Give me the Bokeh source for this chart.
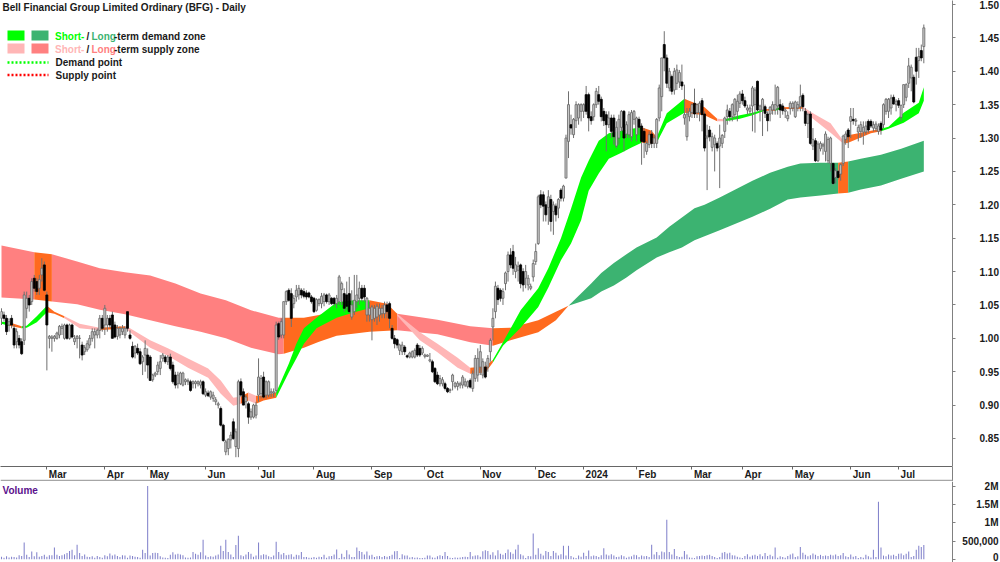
from bokeh.plotting import figure
from bokeh.layouts import column
from bokeh.core.properties import value
from bokeh.models import (Range1d, FixedTicker, LinearAxis, Arrow, ColumnDataSource,
                          NumeralTickFormatter)
from bokeh.embed import file_html
from bokeh.resources import INLINE

opens = [
 1.030,1.035,1.030,1.020,1.030,1.015,0.995,1.000,0.995,0.997,
 1.045,1.060,1.055,1.090,1.085,1.075,1.095,1.110,1.065,1.000,
 1.000,1.000,1.000,1.005,1.015,1.000,1.020,1.000,1.020,0.995,
 1.000,1.000,0.990,0.980,0.983,0.990,1.000,1.005,1.005,1.012,
 1.030,1.020,1.020,1.030,1.035,1.020,1.003,1.005,1.010,1.005,
 1.040,1.005,0.988,0.978,0.985,0.980,0.965,0.975,0.975,0.972,
 .938,.945,.950,.955,.970,.972,.965,.972,.960,.945,
 .932,.932,.930,.935,.935,.935,.932,.932,.932,.930,
 .935,.915,.918,.912,.910,.905,.900,.895,.870,.830,
 .835,.848,.875,.838,.835,.935,.920,.905,.902,.882,
 .882,.885,.915,.917,.942,.915,.915,.918,.918,.922,
 1.022,1.005,1.005,1.055,1.072,1.067,1.052,1.062,1.065,1.072,
 1.070,1.068,1.068,1.062,1.060,1.042,1.052,1.052,1.055,1.065,
 1.055,1.060,1.060,1.052,1.055,1.073,1.067,1.065,1.067,1.032,
 1.040,1.055,1.060,1.075,1.075,1.035,1.035,1.028,1.030,1.032,
 1.035,1.037,1.037,1.050,1.052,1.015,1.000,.998,.982,.980,
 .987,.974,.972,.972,.972,.990,.985,.978,.973,.973,
 .966,.965,.955,.945,.932,.932,.932,.925,.922,.935,
 .928,.928,.930,.930,.930,.928,.937,.925,.940,.945,
 .957,.945,.957,.957,.980,1.017,1.040,1.075,1.072,1.060,
 1.082,1.100,1.125,1.130,1.100,1.102,1.110,1.100,1.090,1.080,
 1.075,1.092,1.115,1.142,1.215,1.215,1.200,1.196,1.208,1.190,
 1.198,1.195,1.222,1.210,1.240,1.295,1.320,1.305,1.326,1.330,
 1.340,1.340,1.365,1.365,1.332,1.332,1.350,1.365,1.358,1.340,
 1.335,1.320,1.330,1.330,1.288,1.300,1.316,1.340,1.306,1.305,
 1.302,1.328,1.305,1.328,1.318,1.310,1.280,1.290,1.306,1.292,
 1.292,1.330,1.362,1.440,1.420,1.375,1.392,1.372,1.382,1.384,
 1.384,1.330,1.302,1.332,1.338,1.352,1.338,1.338,1.356,1.336,
 1.300,1.312,1.286,1.290,1.292,1.288,1.292,1.310,1.332,1.340,
 1.332,1.335,1.340,1.352,1.366,1.356,1.342,1.340,1.348,1.350,
 1.385,1.342,1.342,1.347,1.336,1.336,1.342,1.342,1.348,1.350,
 1.348,1.340,1.329,1.344,1.345,1.332,1.345,1.347,1.364,1.340,
 1.322,1.336,1.288,1.296,1.266,1.284,1.288,1.280,1.266,1.262,
 1.262,1.241,1.250,1.246,1.262,1.298,1.312,1.325,1.328,1.325,
 1.309,1.310,1.309,1.309,1.325,1.325,1.315,1.314,1.310,1.322,
 1.320,1.340,1.340,1.345,1.361,1.350,1.356,1.331,1.350,1.361,
 1.382,1.390,1.391,1.421,1.416,1.431,1.437]
highs = [
 1.045,1.040,1.035,1.030,1.035,1.020,1.015,1.005,1.000,1.070,
 1.070,1.065,1.090,1.095,1.090,1.095,1.120,1.115,1.070,1.005,
 1.005,1.005,1.010,1.020,1.022,1.022,1.022,1.022,1.022,1.005,
 1.005,1.005,0.995,0.990,0.997,1.005,1.015,1.015,1.015,1.035,
 1.035,1.050,1.035,1.035,1.040,1.025,1.020,1.018,1.020,1.018,
 1.040,1.012,0.995,0.990,0.992,0.985,0.975,0.997,0.985,0.975,
 .947,.950,.965,.975,.978,.975,.975,.977,.965,.950,
 .950,.950,.950,.940,.940,.938,.937,.937,.937,.938,
 .937,.925,.922,.922,.920,.912,.905,.898,.872,.848,
 .850,.860,.880,.865,.938,.940,.925,.915,.905,.895,
 .902,.905,.970,.945,.950,.937,.937,.925,.925,1.025,
 1.025,1.030,1.055,1.072,1.075,1.075,1.065,1.080,1.080,1.075,
 1.075,1.072,1.070,1.065,1.062,1.060,1.060,1.068,1.068,1.067,
 1.068,1.062,1.062,1.065,1.095,1.085,1.075,1.085,1.092,1.072,
 1.095,1.095,1.085,1.080,1.080,1.062,1.055,1.050,1.050,1.052,
 1.052,1.050,1.055,1.055,1.055,1.020,1.005,1.000,.992,.995,
 .990,.976,.980,.982,.985,.993,.990,.988,.977,.976,
 .978,.968,.957,.950,.945,.942,.935,.927,.925,.947,
 .935,.936,.935,.945,.940,.937,.940,.952,.975,.985,
 .990,.970,.965,.975,1.000,1.045,1.085,1.080,1.075,1.075,
 1.100,1.130,1.135,1.140,1.122,1.115,1.112,1.105,1.110,1.095,
 1.082,1.118,1.142,1.215,1.222,1.220,1.205,1.222,1.215,1.205,
 1.202,1.210,1.225,1.230,1.305,1.370,1.335,1.330,1.355,1.352,
 1.352,1.352,1.378,1.368,1.340,1.352,1.375,1.378,1.362,1.345,
 1.340,1.340,1.335,1.335,1.325,1.335,1.342,1.342,1.325,1.340,
 1.342,1.342,1.332,1.332,1.322,1.315,1.295,1.310,1.312,1.305,
 1.330,1.380,1.420,1.460,1.425,1.405,1.395,1.405,1.410,1.402,
 1.410,1.380,1.345,1.345,1.352,1.374,1.352,1.355,1.360,1.340,
 1.320,1.318,1.308,1.305,1.295,1.320,1.306,1.332,1.350,1.345,
 1.352,1.360,1.365,1.370,1.372,1.362,1.350,1.350,1.378,1.376,
 1.386,1.350,1.360,1.350,1.340,1.348,1.355,1.380,1.378,1.358,
 1.352,1.345,1.340,1.355,1.355,1.356,1.355,1.380,1.367,1.345,
 1.338,1.340,1.315,1.300,1.295,1.295,1.293,1.310,1.302,1.302,
 1.262,1.255,1.252,1.262,1.305,1.310,1.315,1.345,1.345,1.330,
 1.320,1.325,1.325,1.325,1.328,1.328,1.325,1.325,1.322,1.325,
 1.352,1.360,1.360,1.365,1.365,1.358,1.360,1.350,1.380,1.382,
 1.420,1.410,1.395,1.435,1.435,1.440,1.470]
lows = [
 1.020,1.025,1.005,1.010,1.015,0.985,0.985,0.985,0.975,0.990,
 1.030,1.040,1.050,1.070,1.065,1.065,1.085,1.070,0.952,0.985,
 0.980,0.995,0.998,1.000,1.005,0.998,0.998,0.998,1.000,0.990,
 0.985,0.970,0.967,0.975,0.980,0.985,0.995,0.985,1.000,1.000,
 1.010,1.005,1.010,1.015,1.000,1.000,0.998,1.000,1.005,1.000,
 1.010,0.998,0.970,0.970,0.975,0.960,0.945,0.950,0.940,0.937,
 .935,.942,.945,.945,.965,.962,.960,.952,.932,.925,
 .925,.930,.928,.930,.930,.920,.925,.925,.928,.925,
 .915,.912,.912,.908,.905,.900,.895,.868,.845,.825,
 .825,.835,.848,.822,.822,.912,.900,.895,.872,.878,
 .880,.880,.905,.910,.910,.910,.912,.912,.912,.918,
 .998,1.000,1.000,1.050,1.055,1.017,1.045,1.055,1.058,1.060,
 1.060,1.058,1.060,1.052,1.038,1.040,1.048,1.045,1.048,1.052,
 1.050,1.050,1.048,1.045,1.050,1.050,1.040,1.042,1.038,1.028,
 1.035,1.045,1.050,1.055,1.055,1.025,1.025,.997,1.025,1.020,
 1.025,1.030,1.030,1.030,1.015,.998,.985,.985,.975,.975,
 .975,.970,.970,.970,.970,.972,.972,.975,.970,.972,
 .964,.948,.933,.930,.928,.928,.922,.918,.918,.922,
 .925,.922,.925,.925,.927,.925,.925,.920,.935,.935,
 .945,.940,.940,.950,.965,.997,1.030,1.050,1.055,1.050,
 1.072,1.085,1.105,1.095,1.090,1.085,1.075,1.070,1.075,1.072,
 1.072,1.085,1.110,1.140,1.195,1.175,1.175,1.170,1.160,1.155,
 1.175,1.180,1.205,1.205,1.240,1.270,1.305,1.300,1.315,1.320,
 1.325,1.330,1.335,1.310,1.320,1.326,1.345,1.350,1.325,1.318,
 1.280,1.315,1.300,1.290,1.285,1.290,1.310,1.280,1.300,1.300,
 1.295,1.320,1.295,1.305,1.260,1.270,1.275,1.285,1.285,1.285,
 1.285,1.325,1.340,1.400,1.375,1.370,1.365,1.365,1.372,1.375,
 1.372,1.320,1.296,1.325,1.330,1.330,1.330,1.325,1.310,1.280,
 1.222,1.295,1.280,1.250,1.280,1.225,1.285,1.300,1.320,1.325,
 1.325,1.330,1.325,1.345,1.350,1.345,1.335,1.335,1.310,1.308,
 1.340,1.325,1.303,1.330,1.310,1.325,1.335,1.335,1.335,1.330,
 1.335,1.330,1.325,1.335,1.340,1.330,1.340,1.340,1.340,1.318,
 1.300,1.290,1.282,1.264,1.264,1.280,1.275,1.265,1.262,1.250,
 1.230,1.232,1.238,1.236,1.258,1.290,1.285,1.300,1.320,1.318,
 1.295,1.300,1.290,1.305,1.308,1.315,1.310,1.310,1.305,1.305,
 1.315,1.335,1.330,1.335,1.350,1.340,1.345,1.325,1.345,1.355,
 1.375,1.370,1.352,1.380,1.390,1.415,1.412]
closes = [
 1.040,1.030,1.010,1.025,1.020,0.990,1.010,0.990,0.977,1.065,
 1.060,1.050,1.085,1.075,1.070,1.088,1.105,1.072,1.020,1.003,
 1.002,1.003,1.008,1.018,1.018,1.020,1.000,1.020,1.002,1.000,
 1.003,1.000,0.975,0.986,0.992,1.000,1.010,1.010,1.012,1.030,
 1.015,1.045,1.030,1.020,1.000,1.002,1.015,1.015,1.015,1.015,
 1.015,1.000,0.972,0.988,0.978,0.962,0.972,0.985,0.960,0.937,
 .945,.948,.960,.965,.975,.965,.972,.955,.935,.930,
 .945,.948,.948,.938,.937,.922,.935,.935,.935,.935,
 .917,.920,.914,.920,.915,.908,.902,.870,.847,.845,
 .849,.855,.850,.860,.935,.915,.900,.912,.882,.890,
 .900,.900,.942,.940,.912,.935,.935,.920,.920,1.020,
 1.002,1.025,1.055,1.070,1.057,1.030,1.060,1.072,1.075,1.065,
 1.063,1.062,1.062,1.055,1.040,1.058,1.058,1.063,1.065,1.055,
 1.065,1.052,1.052,1.060,1.092,1.082,1.045,1.048,1.040,1.050,
 1.057,1.065,1.075,1.060,1.062,1.060,1.045,1.047,1.045,1.048,
 1.045,1.045,1.050,1.040,1.030,1.000,.992,.990,.990,.990,
 .980,.972,.978,.980,.982,.975,.975,.985,.975,.975,
 .968,.950,.935,.932,.940,.938,.925,.920,.923,.945,
 .933,.933,.932,.942,.935,.935,.927,.947,.970,.970,
 .980,.965,.942,.970,.997,1.030,1.078,1.058,1.060,1.070,
 1.098,1.125,1.110,1.105,1.110,1.108,1.082,1.080,1.100,1.090,
 1.078,1.112,1.130,1.212,1.200,1.198,1.185,1.212,1.175,1.200,
 1.185,1.208,1.210,1.228,1.300,1.350,1.315,1.328,1.350,1.350,
 1.350,1.350,1.340,1.330,1.326,1.350,1.370,1.355,1.332,1.326,
 1.320,1.330,1.310,1.302,1.316,1.328,1.340,1.300,1.320,1.335,
 1.338,1.340,1.330,1.316,1.295,1.294,1.292,1.305,1.292,1.300,
 1.328,1.375,1.420,1.420,1.382,1.400,1.370,1.400,1.402,1.398,
 1.378,1.335,1.336,1.340,1.350,1.336,1.350,1.352,1.335,1.285,
 1.303,1.302,1.302,1.300,1.285,1.300,1.304,1.330,1.342,1.332,
 1.350,1.358,1.355,1.366,1.356,1.348,1.345,1.345,1.375,1.372,
 1.342,1.348,1.358,1.337,1.326,1.346,1.350,1.350,1.376,1.342,
 1.341,1.342,1.334,1.352,1.352,1.354,1.350,1.362,1.347,1.322,
 1.335,1.292,1.298,1.266,1.291,1.292,1.290,1.306,1.298,1.300,
 1.232,1.251,1.241,1.260,1.303,1.306,1.302,1.332,1.326,1.327,
 1.316,1.320,1.316,1.318,1.312,1.318,1.320,1.321,1.318,1.312,
 1.350,1.358,1.358,1.360,1.351,1.355,1.349,1.349,1.380,1.380,
 1.408,1.406,1.354,1.400,1.422,1.420,1.465]
volumes_k = [
 70,40,80,50,70,60,50,110,90,460,
 120,60,210,80,190,70,90,120,70,110,
 110,320,120,90,110,140,170,230,260,110,
 400,170,90,130,70,60,80,40,90,60,
 40,110,80,160,100,130,90,60,110,100,
 40,100,90,70,60,40,260,170,2020,100,
 170,180,170,80,50,40,30,120,190,130,
 150,130,110,50,40,50,200,150,120,190,
 540,100,60,80,70,100,130,370,230,540,
 200,130,60,390,650,110,80,130,200,150,
 70,100,460,110,140,120,80,60,100,480,
 200,130,170,110,120,140,70,120,110,200,
 60,60,40,40,60,40,70,60,120,40,
 80,90,130,265,30,150,60,250,130,60,
 60,320,230,200,130,210,100,120,60,80,
 90,60,90,70,90,120,220,230,30,140,
 100,100,50,60,40,50,30,30,40,100,
 100,50,40,80,110,90,200,90,40,30,
 50,40,50,60,70,60,200,80,100,110,
 70,220,250,230,120,190,100,250,150,120,
 170,270,190,150,270,400,140,100,30,90,
 80,710,120,300,150,100,230,200,90,230,
 180,100,140,370,100,370,90,50,30,100,
 70,180,90,240,80,100,90,60,110,300,
 130,100,140,100,60,70,110,80,40,70,
 80,120,110,60,100,80,90,60,400,130,
 200,110,210,190,1090,200,130,280,90,60,
 70,230,130,50,40,30,80,90,100,90,
 110,120,90,60,30,60,180,200,160,180,
 110,100,70,50,30,90,140,70,100,120,
 90,140,80,170,90,120,80,320,40,80,
 60,40,90,130,160,60,80,340,180,120,
 80,110,160,120,90,120,90,100,90,120,
 100,130,90,110,170,80,60,130,70,90,
 30,60,40,120,80,50,260,60,1590,320,
 100,80,130,100,120,90,150,160,110,150,
 210,60,90,260,370,340,390]

long_idx = [0,13,20,30,39,49,59,69,79,89,99,110,112,120,126,133,146,157,173,186,195,202,213,220,225,234,238,243,248,252,260,265,270,275,279,285,298,305,312,317,325,332,336,341,349,357,366]
long_top = [1.139,1.129,1.126,1.115,1.105,1.099,1.094,1.082,1.067,1.057,1.042,1.031,1.031,1.031,1.035,1.042,1.052,1.037,1.028,1.018,1.015,1.016,1.027,1.040,1.049,1.082,1.098,1.113,1.126,1.136,1.151,1.167,1.181,1.195,1.200,1.211,1.236,1.248,1.257,1.262,1.263,1.263,1.265,1.269,1.275,1.284,1.296]
long_bot = [1.061,1.058,1.055,1.051,1.043,1.036,1.027,1.018,1.010,1.000,0.986,0.976,0.977,0.986,0.995,1.004,1.010,1.012,1.006,0.994,0.989,0.997,1.009,1.027,1.049,1.060,1.070,1.079,1.091,1.102,1.121,1.129,1.136,1.147,1.153,1.162,1.182,1.194,1.208,1.211,1.214,1.217,1.218,1.223,1.229,1.239,1.250]
long_state = ["s","o","s","s","s","s","s","s","s","s","s","s","o","o","o","o","o","s","s","s","o","o","o","o","d","d","d","d","d","d","d","d","d","d","d","d","d","d","d","d","d","o","d","d","d","d","d"]

short_idx = [0,3,8,10,14,18,21,25,31,39,49,51,59,66,74,82,87,92,95,98,101,104,109,114,117,120,125,133,140,146,153,157,166,173,181,186,192,195,199,206,213,217,222,226,230,233,237,241,246,250,254,258,260,264,271,279,284,287,293,298,303,307,309,318,322,329,334,336,345,349,352,358,364,366]
short_top = [1.025,1.024,1.018,1.019,1.033,1.049,1.040,1.033,1.022,1.016,1.018,1.015,0.997,0.985,0.970,0.955,0.937,0.911,0.913,0.919,0.914,0.914,0.919,0.962,0.992,1.015,1.031,1.054,1.057,1.057,1.052,1.037,1.009,0.992,0.971,0.956,0.958,0.968,0.994,1.042,1.075,1.105,1.150,1.194,1.241,1.266,1.296,1.307,1.311,1.314,1.316,1.311,1.301,1.337,1.359,1.346,1.329,1.328,1.334,1.338,1.343,1.344,1.346,1.347,1.337,1.322,1.296,1.304,1.311,1.314,1.317,1.338,1.353,1.376]
short_bot = [1.022,1.019,1.015,1.016,1.024,1.039,1.037,1.030,1.015,1.012,1.015,1.009,0.986,0.974,0.956,0.941,0.917,0.899,0.902,0.907,0.902,0.907,0.911,0.949,0.970,0.992,1.015,1.031,1.039,1.045,1.042,1.034,0.997,0.979,0.956,0.947,0.949,0.964,0.989,1.016,1.047,1.076,1.117,1.142,1.177,1.221,1.247,1.269,1.278,1.286,1.293,1.292,1.293,1.322,1.338,1.334,1.325,1.325,1.329,1.334,1.341,1.341,1.343,1.344,1.329,1.308,1.292,1.293,1.307,1.310,1.314,1.323,1.337,1.356]
short_state = ["d","o","d","d","d","o","o","s","s","o","s","s","s","s","s","s","s","s","o","s","o","o","d","d","d","d","d","d","d","o","o","s","s","s","s","o","o","d","d","d","d","d","d","d","d","d","d","d","d","d","o","o","d","d","o","o","s","d","d","d","o","d","o","s","s","s","o","o","o","d","d","d","d","d"]
assert len(long_idx) == len(long_top) == len(long_bot) == len(long_state)
assert len(short_idx) == len(short_top) == len(short_bot) == len(short_state)

price_ticks = [0.85,0.90,0.95,1.00,1.05,1.10,1.15,1.20,1.25,1.30,1.35,1.40,1.45,1.50]
month_labels = ["Mar","Apr","May","Jun","Jul","Aug","Sep","Oct","Nov","Dec","2024","Feb","Mar","Apr","May","Jun","Jul"]
month_idx = [18,41,58,81,102,124,147,168,190,212,231,252,274,294,314,337,356]
volume_ticks = [0,500000,1000000,1500000,2000000]
volume_labels = ["0","500,000","1M","1.5M","2M"]

LONG_COL = {"s":"#FF8080","o":"#FF6A1E","d":"#3CB371"}
SHORT_COL = {"s":"#FFB6B6","o":"#FF6A1E","d":"#00FF00"}
FONT = "Liberation Sans"
TXT = "#1a1a1a"
WIDTH_PX = 1000
AXIS_POS = 377.38

xr = Range1d(-0.397, AXIS_POS)

def xp(px):
    return (px - 1) / 2.52

def yp(py):
    return 1.5 - (py - 4) * 0.0014977

p = figure(frame_width=952, frame_height=466, x_range=xr, y_range=Range1d(yp(466), yp(0)),
           output_backend="svg", toolbar_location=None, x_axis_location=None, y_axis_location="right",
           min_border_left=0, min_border_right=48, min_border_top=0, min_border_bottom=0,
           outline_line_color=None)
p.grid.visible = False
ax = p.yaxis[0]
ax.ticker = FixedTicker(ticks=price_ticks)
ax.formatter = NumeralTickFormatter(format="0.00")
ax.major_label_standoff = 24
ax.major_tick_out = 3
ax.major_tick_in = 0
ax.minor_tick_line_color = None
ax.axis_line_color = "#808080"
ax.major_tick_line_color = "#808080"
ax.major_label_text_font = FONT
ax.major_label_text_font_size = "10px"
ax.major_label_text_font_style = "bold"
ax.major_label_text_color = TXT


def draw_band(fig, idx, top, bot, state, cols):
    start = 0
    for k in range(1, len(idx)):
        if k == len(idx) - 1 or state[k] != state[start]:
            fig.varea(x=idx[start:k + 1], y1=bot[start:k + 1], y2=top[start:k + 1],
                      fill_color=cols[state[start]], fill_alpha=1.0)
            start = k


draw_band(p, long_idx, long_top, long_bot, long_state, LONG_COL)
draw_band(p, short_idx, short_top, short_bot, short_state, SHORT_COL)

bars = list(range(len(opens)))
assert len(opens) == len(highs) == len(lows) == len(closes) == len(volumes_k) == 367
up = [c >= o for o, c in zip(opens, closes)]
src = ColumnDataSource(dict(
    x=bars, high=highs, low=lows,
    top=[max(o, c) for o, c in zip(opens, closes)],
    bot=[min(o, c) for o, c in zip(opens, closes)],
    fill=["#c8c8c8" if u else "#000000" for u in up],
    line=["#666666" if u else "#000000" for u in up],
))
p.segment(x0="x", x1="x", y0="low", y1="high", source=src, line_color="#707070", line_width=1)
p.vbar(x="x", top="top", bottom="bot", width=0.8, source=src, fill_color="fill", line_color="line", line_width=0.8)

# legend and title
def txt(fig_x, fig_y, s, color=TXT, size="10px", style="bold", align="left"):
    p.text(x=[xp(fig_x)], y=[yp(fig_y)], text=[s], text_color=color, text_font=value(FONT),
           text_font_size=size, text_font_style=style, text_align=align, text_baseline="middle")

txt(2, 7, "Bell Financial Group Limited Ordinary (BFG) - Daily")
for (l, r, t, b, c) in [(7, 24, 30, 40, "#00FF00"), (31, 48, 30, 40, "#3CB371"),
                        (7, 24, 43, 53, "#FFB6B6"), (31, 48, 43, 53, "#FF8080")]:
    p.quad(left=[xp(l)], right=[xp(r)], top=[yp(t)], bottom=[yp(b)], fill_color=c, line_color=None)
p.line(x=[xp(7), xp(48)], y=[yp(62), yp(62)], line_color="#00FF00", line_width=2.6, line_dash=[2, 2])
p.line(x=[xp(7), xp(48)], y=[yp(74.5), yp(74.5)], line_color="#FF0000", line_width=2.6, line_dash=[2, 2])
txt(54.5, 35.5, "Short-", color="#00FF00")
txt(86, 35.5, "/")
txt(91, 35.5, "Long", color="#3CB371")
txt(113.5, 35.5, "-term demand zone")
txt(54.5, 48.5, "Short-", color="#FFB6B6")
txt(86, 48.5, "/")
txt(91, 48.5, "Long", color="#FF8080")
txt(113.5, 48.5, "-term supply zone")
txt(55, 62, "Demand point")
txt(55, 75, "Supply point")

# month strip
s = figure(frame_width=952, frame_height=15, x_range=xr, y_range=Range1d(0, 15),
           output_backend="svg", toolbar_location=None, x_axis_location=None, y_axis_location="right",
           min_border_left=0, min_border_right=48, min_border_top=0, min_border_bottom=0,
           outline_line_color=None)
s.grid.visible = False
top_ax = LinearAxis(ticker=FixedTicker(ticks=month_idx), major_tick_in=3, major_tick_out=0,
                    minor_tick_line_color=None, axis_line_color="#666666", major_tick_line_color="#666666",
                    major_label_overrides={t: "" for t in month_idx}, major_label_standoff=0)
s.add_layout(top_ax, "above")
s.yaxis[0].ticker = FixedTicker(ticks=[])
s.yaxis[0].axis_line_color = "#808080"
s.text(x=month_idx, y=[7.5] * len(month_idx), text=month_labels, x_offset=2, text_color=TXT, text_font=value(FONT),
       text_font_size="10px", text_font_style="bold", text_align="left", text_baseline="middle")
s.add_layout(Arrow(end=None, x_start=xr.start, x_end=xp(WIDTH_PX), y_start=0.8, y_end=0.8,
                   line_color="#a6a6a6", line_width=2))

# volume: its frame runs to the page's right edge so the right-aligned labels stay inside it
v = figure(frame_width=WIDTH_PX, frame_height=81, x_range=Range1d(xr.start, xp(WIDTH_PX)),
           y_range=Range1d(-91000, 2146000),
           output_backend="svg", toolbar_location=None, x_axis_location=None, y_axis_location=None,
           min_border_left=0, min_border_right=0, min_border_top=0, min_border_bottom=0,
           outline_line_color=None)
v.grid.visible = False
vax = LinearAxis(fixed_location=AXIS_POS, ticker=FixedTicker(ticks=volume_ticks), major_tick_in=0, major_tick_out=3,
                 minor_tick_line_color=None, axis_line_color="#808080", major_tick_line_color="#808080",
                 major_label_overrides={t: "" for t in volume_ticks})
v.add_layout(vax, "right")
v.vbar(x=bars, top=[k * 1000 for k in volumes_k], bottom=0, width=0.42, fill_color="#8484CC", line_color=None)
v.text(x=[xp(2)], y=[1910000], text=["Volume"], text_color="#5B0F8C", text_font=value(FONT), text_font_size="10px",
       text_font_style="bold", text_align="left", text_baseline="middle")
v.text(x=[xp(998)] * len(volume_ticks), y=[max(t, 60000) for t in volume_ticks], text=volume_labels,
       text_color=TXT, text_font=value(FONT), text_font_size="10px", text_font_style="bold",
       text_align="right", text_baseline="middle")

page = column(p, s, v, spacing=0)
open("out.html", "w").write(file_html(page, INLINE))
